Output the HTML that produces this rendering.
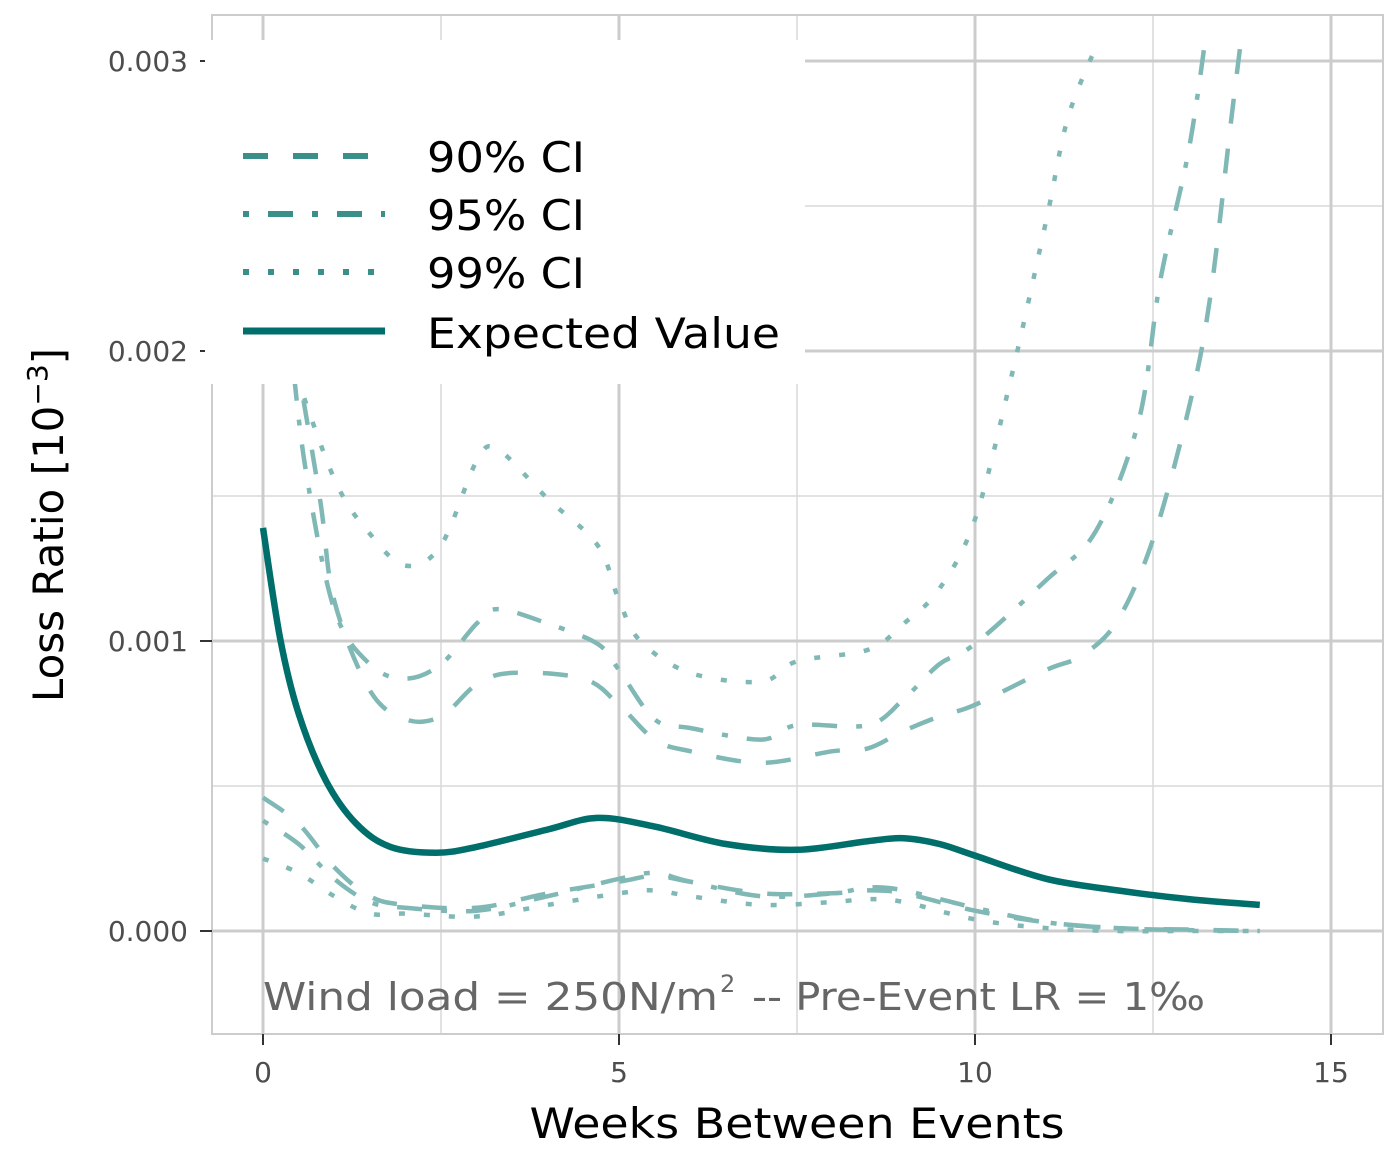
<!DOCTYPE html>
<html><head><meta charset="utf-8"><style>
html,body{margin:0;padding:0;background:#fff}
svg{display:block;font-family:"DejaVu Sans","Liberation Sans",sans-serif}
</style></head><body>
<svg id="chart" width="1400" height="1153" viewBox="0 0 1400 1153" xmlns="http://www.w3.org/2000/svg">
<defs><clipPath id="clip"><rect x="212" y="15" width="1171" height="1019"/></clipPath></defs>
<g id="grid"></g>
<g id="series" clip-path="url(#clip)"></g>
<rect x="212" y="15" width="1171" height="1019" fill="none" stroke="#cccccc" stroke-width="2"/>
<g id="axes"></g>
<g>
<rect x="205" y="40" width="600" height="344" fill="#fff"/>
<g><line x1="243" y1="156" x2="368" y2="156" stroke="#3a8f8b" stroke-width="6" stroke-dasharray="25 25"/><text x="427" y="172" font-size="42" fill="#000" textLength="158" lengthAdjust="spacingAndGlyphs">90% CI</text></g>
<g><line x1="243" y1="214" x2="385" y2="214" stroke="#3a8f8b" stroke-width="6" stroke-dasharray="6 19 25 19"/><text x="427" y="230" font-size="42" fill="#000" textLength="158" lengthAdjust="spacingAndGlyphs">95% CI</text></g>
<g><line x1="243" y1="272" x2="375" y2="272" stroke="#3a8f8b" stroke-width="6" stroke-dasharray="6 19"/><text x="427" y="288" font-size="42" fill="#000" textLength="158" lengthAdjust="spacingAndGlyphs">99% CI</text></g>
<g><line x1="243" y1="331" x2="385" y2="331" stroke="#006e6a" stroke-width="7"/><text x="427" y="348" font-size="42" fill="#000" textLength="353" lengthAdjust="spacingAndGlyphs">Expected Value</text></g>
</g>
<text x="263" y="1010" font-size="38" fill="#666"><tspan textLength="455" lengthAdjust="spacingAndGlyphs">Wind load = 250N/m</tspan><tspan x="720" dy="-18" font-size="24">2</tspan><tspan x="752" dy="18" textLength="453" lengthAdjust="spacingAndGlyphs">--  Pre-Event LR = 1‰</tspan></text>
<text x="797" y="1138" font-size="42" fill="#000" text-anchor="middle" textLength="535" lengthAdjust="spacingAndGlyphs">Weeks Between Events</text>
<text transform="translate(63,525) rotate(-90)" font-size="42" fill="#000" text-anchor="middle">Loss Ratio [10<tspan dy="-16" font-size="28">−3</tspan><tspan dy="16">]</tspan></text>
</svg>
<script>
const xTicks=[0,5,10,15];
const yTicks=[0,0.001,0.002,0.003];
const yTickLabels=["0.000","0.001","0.002","0.003"];
const evX=[0,0.24,0.5,0.88,1.31,1.79,2.43,3,4,4.7,5.5,6.5,7.5,8.5,9,9.5,10,11,12,13,14];
const evY=[1.39,1.01,0.75,0.52,0.37,0.29,0.27,0.29,0.35,0.39,0.36,0.30,0.28,0.31,0.32,0.30,0.26,0.18,0.14,0.11,0.09];
const u90X=[0.45,0.8,1,1.5,2,2.5,3,3.5,4.5,5,5.5,6,7,8,8.5,9,9.5,10,11,11.5,12,12.5,13,13.3,13.6,13.75];
const u90Y=[2.0,1.49,1.14,0.83,0.73,0.74,0.85,0.89,0.87,0.78,0.66,0.62,0.58,0.62,0.63,0.69,0.74,0.78,0.90,0.95,1.07,1.35,1.80,2.18,2.80,3.1];
const u95X=[0.4,0.6,1,1.5,2,2.5,3,3.3,4,4.7,5,5.5,6,7,7.5,8.5,9,9.5,10,11,11.7,12.3,12.6,13,13.25];
const u95Y=[2.0,1.59,1.11,0.92,0.87,0.92,1.06,1.11,1.06,0.99,0.90,0.73,0.70,0.66,0.71,0.71,0.80,0.92,0.99,1.21,1.38,1.76,2.24,2.69,3.1];
const u99X=[0.35,1,1.5,2,2.5,3,3.3,4,4.7,5,5.3,6,7,7.5,8.5,9,9.5,10,10.5,11,11.3,11.7];
const u99Y=[2.0,1.56,1.37,1.26,1.33,1.62,1.66,1.49,1.33,1.14,1.00,0.89,0.86,0.93,0.97,1.06,1.18,1.42,1.90,2.45,2.80,3.05];
const l90X=[0,0.5,1,1.5,2,3,4,5,5.5,6,7,8,8.5,9,10,11,12,13,14];
const l90Y=[0.46,0.37,0.22,0.12,0.09,0.08,0.13,0.17,0.19,0.17,0.13,0.13,0.14,0.13,0.07,0.03,0.01,0.005,0.0];
const l95X=[0,0.5,1,1.5,2,3,4,5,5.5,6,7,8,8.5,9,10,11,12,13,14];
const l95Y=[0.38,0.30,0.18,0.10,0.08,0.07,0.12,0.18,0.20,0.17,0.12,0.13,0.15,0.14,0.08,0.03,0.01,0.003,0.0];
const l99X=[0,0.5,1,1.5,2,3,4,5,5.5,6,7,8,8.5,9,10,11,12,13,14];
const l99Y=[0.25,0.20,0.12,0.06,0.06,0.05,0.09,0.13,0.14,0.12,0.09,0.10,0.11,0.10,0.04,0.01,0.0,0.0,0.0];

const NS="http://www.w3.org/2000/svg";
const sx=v=>263+v*71.2;
const sy=v=>931-v*290000;
const syk=v=>931-v*290;
function mk(tag,attrs,parent){const e=document.createElementNS(NS,tag);for(const k in attrs)e.setAttribute(k,attrs[k]);parent.appendChild(e);return e;}
const grid=document.getElementById('grid'),axes=document.getElementById('axes'),series=document.getElementById('series');
[2.5,7.5,12.5].forEach(v=>{const l=mk('line',{x1:sx(v),x2:sx(v),y1:15,y2:1034,stroke:'#d9d9d9','stroke-width':1.5},grid);

});
[0.0005,0.0015,0.0025].forEach(v=>{const l=mk('line',{x1:212,x2:1383,y1:sy(v),y2:sy(v),stroke:'#d9d9d9','stroke-width':1.5},grid);

});
xTicks.forEach(v=>{const l=mk('line',{x1:sx(v),x2:sx(v),y1:15,y2:1034,stroke:'#cccccc','stroke-width':3},grid);


const t=mk('line',{x1:sx(v),x2:sx(v),y1:1034,y2:1045,stroke:'#333','stroke-width':2},axes);


const tx=mk('text',{x:sx(v),y:1082,'font-size':28,fill:'#4d4d4d','text-anchor':'middle'},axes);tx.textContent=v;

});
yTicks.forEach((v,i)=>{const l=mk('line',{x1:212,x2:1383,y1:sy(v),y2:sy(v),stroke:'#cccccc','stroke-width':3},grid);


const t=mk('line',{x1:200,x2:212,y1:sy(v),y2:sy(v),stroke:'#333','stroke-width':2},axes);


const tx=mk('text',{x:188,y:sy(v)+10,'font-size':28,fill:'#4d4d4d','text-anchor':'end'},axes);tx.textContent=yTickLabels[i];

});
function pathD(xs,ys){const p=xs.map((x,i)=>[sx(x),syk(ys[i])]);let d='M'+p[0][0]+','+p[0][1];
for(let i=0;i<p.length-1;i++){const p0=p[i-1]||p[i],p1=p[i],p2=p[i+1],p3=p[i+2]||p2;
const c1=[p1[0]+(p2[0]-p0[0])/6,p1[1]+(p2[1]-p0[1])/6],c2=[p2[0]-(p3[0]-p1[0])/6,p2[1]-(p3[1]-p1[1])/6];
d+=' C'+c1+' '+c2+' '+p2;}return d;}
function draw(xs,ys,dash,name,color,w){const e=mk('path',{d:pathD(xs,ys),fill:'none',stroke:color,'stroke-width':w,'stroke-dasharray':dash},series);

}
const ci='#7fb8b5';
draw(u90X,u90Y,'25 25','ci90-upper',ci,4.5);
draw(l90X,l90Y,'25 25','ci90-lower',ci,4.5);
draw(u95X,u95Y,'6 19 25 19','ci95-upper',ci,4.5);
draw(l95X,l95Y,'6 19 25 19','ci95-lower',ci,4.5);
draw(u99X,u99Y,'6 19','ci99-upper',ci,4.5);
draw(l99X,l99Y,'6 19','ci99-lower',ci,4.5);
draw(evX,evY,'none','expected-value-line','#006e6a',6.5);
</script>
</body></html>
